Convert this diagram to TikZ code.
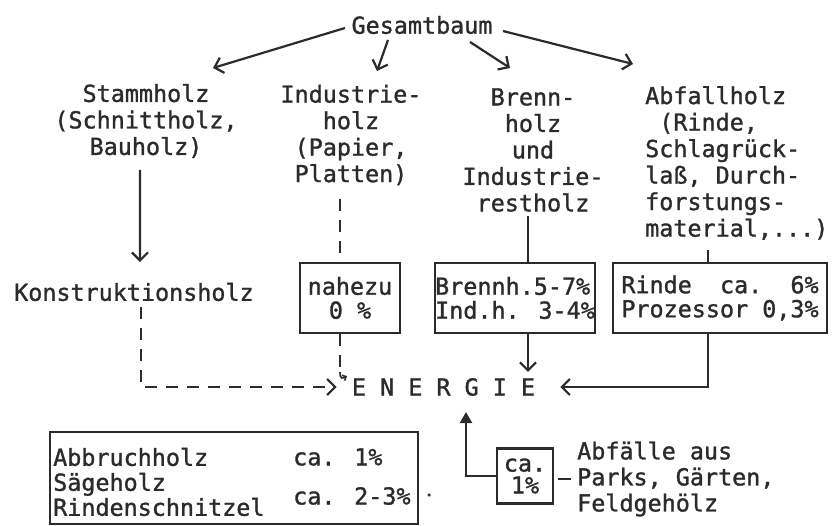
\documentclass[tikz,border=0pt]{standalone}
\usepackage{fontspec}
\newfontfamily\tw[FakeBold=1.2]{DejaVu Sans Mono}
\usetikzlibrary{arrows.meta,calc}
\definecolor{inkc}{HTML}{2B2B2B}
\begin{document}
\begin{tikzpicture}[x=1pt,y=-1pt,
  ink/.style={draw=inkc, line width=2.2pt},
  txt/.style={font=\tw\fontsize{23.4}{26.5}\selectfont, text=inkc, inner sep=0pt},
  boxed/.style={draw=inkc, line width=2.2pt, font=\tw\fontsize{23.4}{24}\selectfont, text=inkc, inner sep=0pt, align=left},
  arr/.style={ink, -{Straight Barb[length=8pt,width=16pt,line width=2.2pt]}},
  dashline/.style={ink, dash pattern=on 12pt off 9pt},
]
\useasboundingbox (0,0) rectangle (833,526);
\fill[white] (0,0) rectangle (833,526);

% text blocks
\node[txt] (gesamt) at (422,25) {Gesamtbaum};
\node[txt, align=center] (stamm) at (146,121) {Stammholz\\(Schnittholz,\\Bauholz)};
\node[txt, align=center] (indus) at (351,135) {Industrie-\\holz\\(Papier,\\Platten)};
\node[txt, align=center] (brenn) at (533,150) {Brenn-\\holz\\und\\Industrie-\\restholz};
\node[txt, align=left, anchor=west] (abf) at (645,163) {Abfallholz\\\hphantom{x}(Rinde,\\Schlagrück-\\laß, Durch-\\forstungs-\\material,...)};
\node[txt, anchor=west] (konstr) at (14,292) {Konstruktionsholz};

% boxes
\node[boxed, minimum width=100pt, minimum height=70pt, align=center] (nbox) at (350,298) {nahezu\\0 \%};
\node[boxed, minimum width=160pt, minimum height=70pt] (brbox) at (515,298) {Brennh.5-7\%\\Ind.h. 3-4\%};
\node[boxed, minimum width=214pt, minimum height=70pt] (rbox) at (720,298) {Rinde\ \ ca.\ \ 6\%\\Prozessor 0,3\%};

\node[txt] (energie) at (443.5,387) {E N E R G I E};

% bottom
\node[draw=inkc, line width=2.2pt, minimum width=368pt, minimum height=92pt, inner sep=0pt] (bbox) at (234,478) {};
\node[txt, align=left, anchor=west, font=\tw\fontsize{23.4}{25}\selectfont] (bnames) at (53,482) {Abbruchholz\\Sägeholz\\Rindenschnitzel};
\node[txt, anchor=west] (b1) at (293,457) {ca. 1\%};
\node[txt, anchor=west] (b2) at (293,496) {ca. 2-3\%};
\fill[inkc] ($(bbox.east)+(10,17)$) circle (1.8pt);

\node[boxed, minimum width=56pt, minimum height=55pt, align=center, font=\tw\fontsize{23.4}{22}\selectfont] (cabox) at (525,476) {ca.\\1\%};
\node[txt, align=left, anchor=west, font=\tw\fontsize{23.4}{26}\selectfont] (parks) at (577,479) {Abfälle aus\\Parks, Gärten,\\Feldgehölz};

% connectors from Gesamtbaum
\draw[arr] ($(gesamt.center)+(-77,3)$) -- ($(stamm.center)+(67,-53)$);
\draw[arr] ($(gesamt.center)+(-34,15)$) -- ($(indus.center)+(26,-64)$);
\draw[arr] ($(gesamt.center)+(48,17)$) -- ($(brenn.center)+(-23,-82)$);
\draw[arr] ($(gesamt.center)+(81,6)$) -- ($(abf.west)+(-12,-99)$);

% columns down
\draw[arr] ($(stamm.center)+(-6,49)$) -- ($(konstr.center)+(6,-30)$);
\draw[dashline] ($(nbox.north)+(-10,-63)$) -- ($(nbox.north)+(-10,0)$);
\draw[ink] ($(brbox.north)+(13,-46)$) -- ($(brbox.north)+(13,0)$);
\draw[ink] ($(rbox.north)+(-12,-12)$) -- ($(rbox.north)+(-12,0)$);

% to ENERGIE
\draw[arr] ($(brbox.south)+(13,0)$) -- ($(brbox.south |- energie.north)+(13,-6)$);
\draw[arr] ($(rbox.south)+(-12,0)$) |- ($(energie.east)+(25,0)$);
\draw[dashline, -{Straight Barb[length=8pt,width=16pt,line width=2.2pt]}] ($(konstr.south)+(7,6)$) |- ($(energie.west)+(-15,0)$);
\draw[dashline] ($(nbox.south)+(-10,0)$) -- ($(nbox.south)+(-10,36)$);
\draw[ink, line width=1.6pt, -{Straight Barb[length=3pt,width=6pt]}] ($(nbox.south)+(-10,38)$) .. controls +(0,8) and +(-4,2) .. ($(nbox.south)+(-3,42)$);
\draw[ink, -{Triangle[length=11pt,width=12pt]}] (cabox.west) -| ($(energie.south)+(22.5,16)$);
\draw[ink] ($(cabox.east)+(4,3)$) -- ($(parks.west |- cabox.east)+(-6,3)$);
\end{tikzpicture}
\end{document}
